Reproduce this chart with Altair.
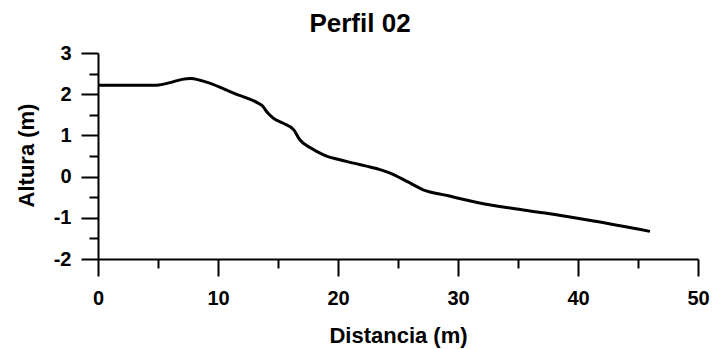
import altair as alt
import pandas as pd

# Profile 02: ground height along the transect
distancia = [0, 4.9, 6.0, 7.0, 7.7, 8.5, 9.3, 11.25, 13.3, 13.7, 14.1, 14.6,
             15.4, 16.3, 16.8, 17.7, 18.8, 20.7, 23.5, 24.3, 25.7, 27.1,
             29.1, 31.8, 34.5, 37.1, 41.3, 46.0]
altura = [2.22, 2.22, 2.28, 2.36, 2.38, 2.34, 2.27, 2.03, 1.79, 1.72, 1.56,
          1.42, 1.30, 1.14, 0.90, 0.70, 0.53, 0.37, 0.17, 0.09, -0.11, -0.32,
          -0.46, -0.64, -0.77, -0.88, -1.08, -1.33]

# Axis tick positions (major + minor)
x_ticks = [0, 5, 10, 15, 20, 25, 30, 35, 40, 45, 50]
y_ticks = [-2, -1.5, -1, -0.5, 0, 0.5, 1, 1.5, 2, 2.5, 3]

df = pd.DataFrame({"distancia": distancia, "altura": altura})

FONT = "Liberation Sans"

common_axis = dict(
    grid=False,
    domainColor="black",
    domainWidth=2,
    tickColor="black",
    tickWidth=2,
    labelFont=FONT,
    labelFontSize=20,
    labelFontWeight="bold",
    labelColor="black",
    labelFlush=False,
    labelOverlap=False,
    titleFont=FONT,
    titleFontSize=22,
    titleFontWeight="bold",
    titleColor="black",
)

x_axis = alt.Axis(
    values=x_ticks,
    title="Distancia (m)",
    labelExpr="datum.value % 10 === 0 ? '' + datum.value : ''",
    tickSize={"condition": {"test": "datum.value % 10 === 0", "value": 17}, "value": 9},
    labelPadding=12,
    titleBaseline="alphabetic",
    titleY=83,
    **common_axis,
)

y_axis = alt.Axis(
    values=y_ticks,
    title="Altura (m)",
    labelExpr="datum.value % 1 === 0 ? '' + datum.value : ''",
    tickSize={"condition": {"test": "datum.value % 1 === 0", "value": 17}, "value": 9},
    labelPadding=10,
    titleAngle=-90,
    titleBaseline="alphabetic",
    titleAlign="center",
    titleX=-65,
    titleY=102,
    **common_axis,
)

chart = (
    alt.Chart(df)
    .mark_line(color="black", strokeWidth=3, interpolate="monotone")
    .encode(
        x=alt.X("distancia:Q", scale=alt.Scale(domain=[0, 50], nice=False), axis=x_axis),
        y=alt.Y("altura:Q", scale=alt.Scale(domain=[-2, 3], nice=False, zero=False), axis=y_axis),
    )
    .properties(
        width=600,
        height=206,
        title=alt.TitleParams(
            "Perfil 02",
            font=FONT,
            fontSize=26,
            fontWeight="bold",
            color="black",
            anchor="middle",
            frame="group",
            dx=-38,
            offset=6,
        ),
        autosize=alt.AutoSizeParams(type="none"),
        padding={"left": 98, "top": 53, "right": 14, "bottom": 90},
        background="white",
    )
    .configure_view(stroke=None)
)

chart.save("out.html", embed_options={"renderer": "svg", "actions": False})
